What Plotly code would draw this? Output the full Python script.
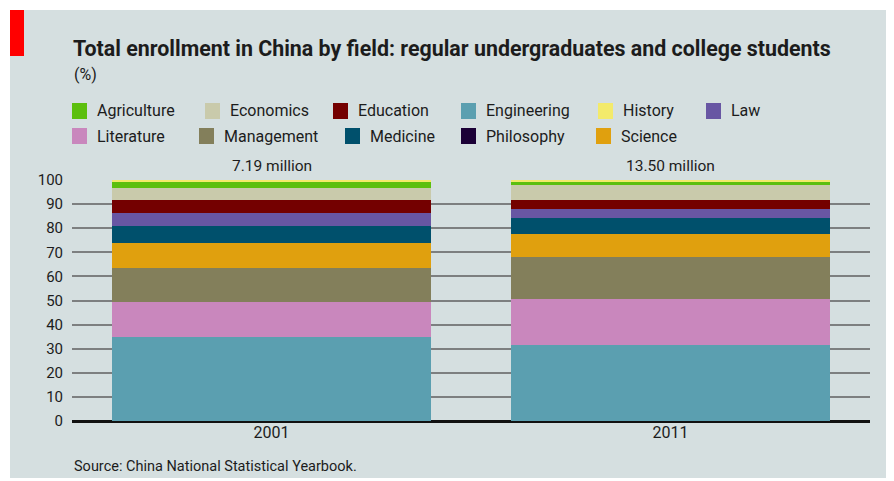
import plotly.graph_objects as go

years = ["2001", "2011"]
totals = ["7.19 million", "13.50 million"]

# stacking order, bottom to top
fields = ["Engineering", "Literature", "Management", "Science", "Medicine",
          "Law", "Education", "Economics", "Philosophy", "Agriculture", "History"]
values_2001 = [34.7, 14.6, 14.3, 10.1, 7.2, 5.4, 5.3, 5.1, 0.0, 2.7, 0.6]
values_2011 = [31.7, 18.8, 17.7, 9.4, 6.8, 3.6, 3.7, 6.1, 0.0, 1.7, 0.5]

colors = {
    "Agriculture": "#5cbf0e", "Economics": "#c9caab", "Education": "#740000",
    "Engineering": "#5b9fb0", "History": "#f3ea6b", "Law": "#6856a3",
    "Literature": "#c987bd", "Management": "#837f5b", "Medicine": "#00506c",
    "Philosophy": "#1b0036", "Science": "#e0a00e",
}

legend_rows = [
    [("Agriculture", 72), ("Economics", 205), ("Education", 333),
     ("Engineering", 461), ("History", 598), ("Law", 706)],
    [("Literature", 72), ("Management", 199), ("Medicine", 345),
     ("Philosophy", 461), ("Science", 596)],
]
tick_vals = list(range(0, 101, 10))

OFF = 8  # page body margin
W, H = 894 - OFF, 481 - OFF
L, R, T, B = 72 - OFF, 24, 180 - OFF, 60
PW, PH = W - L - R, H - T - B
FONT = "Roboto, sans-serif"
TXT = "#1c1c1c"
BG = "#d5dfe0"


def px(x):
    return (x - OFF - L) / PW


def py(y):
    return (H - B - (y - OFF)) / PH


fig = go.Figure()
for i, f in enumerate(fields):
    fig.add_trace(go.Bar(
        x=years, y=[values_2001[i], values_2011[i]], name=f,
        marker=dict(color=colors[f], line=dict(width=0)),
        showlegend=False,
    ))

shapes = [
    dict(type="rect", xref="paper", yref="paper", x0=px(10), x1=px(887),
         y0=py(478), y1=py(10), fillcolor=BG, line=dict(width=0), layer="below"),
    dict(type="rect", xref="paper", yref="paper", x0=px(10), x1=px(24),
         y0=py(56), y1=py(10), fillcolor="#ff0000", line=dict(width=0), layer="below"),
]
annotations = [
    dict(text="<b>Total enrollment in China by field: regular undergraduates and college students</b>",
         xref="paper", yref="paper", x=px(71), y=py(48), xanchor="left", yanchor="middle",
         showarrow=False, font=dict(size=21.4, color=TXT, family=FONT)),
    dict(text="(%)", xref="paper", yref="paper", x=px(72), y=py(74),
         xanchor="left", yanchor="middle", showarrow=False,
         font=dict(size=16, color=TXT, family=FONT)),
    dict(text="Source: China National Statistical Yearbook.", xref="paper", yref="paper",
         x=px(72), y=py(466), xanchor="left", yanchor="middle", showarrow=False,
         font=dict(size=14.5, color=TXT, family=FONT)),
]
for i, tot in enumerate(totals):
    annotations.append(dict(text=tot, x=i, y=100, xref="x", yref="y",
                            yanchor="bottom", yshift=3, showarrow=False,
                            font=dict(size=15.5, color=TXT, family=FONT)))

for row, yc in zip(legend_rows, [111, 136]):
    for name, x0 in row:
        shapes.append(dict(type="rect", xref="paper", yref="paper",
                           x0=px(x0), x1=px(x0 + 15), y0=py(yc + 8), y1=py(yc - 8),
                           fillcolor=colors[name], line=dict(width=0)))
        annotations.append(dict(text=name, xref="paper", yref="paper",
                                x=px(x0 + 23), y=py(yc), xanchor="left", yanchor="middle",
                                showarrow=False, font=dict(size=16, color=TXT, family=FONT)))

fig.update_layout(
    width=W, height=H, autosize=False,
    margin=dict(l=L, r=R, t=T, b=B),
    barmode="stack", bargap=0.2,
    paper_bgcolor="white", plot_bgcolor=BG,
    font=dict(family=FONT, color=TXT, size=15),
    shapes=shapes, annotations=annotations,
    xaxis=dict(type="category", range=[-0.5, 1.5], showgrid=False, showline=False,
               ticks="", tickfont=dict(size=16), fixedrange=True),
    yaxis=dict(range=[0, 100], tickvals=tick_vals, showgrid=True,
               gridcolor="#7d7f80", gridwidth=1.5, zeroline=True,
               zerolinecolor="#111111", zerolinewidth=2.5,
               tickfont=dict(size=15), ticklabelstandoff=8, fixedrange=True),
)
fig.write_html("out.html")
